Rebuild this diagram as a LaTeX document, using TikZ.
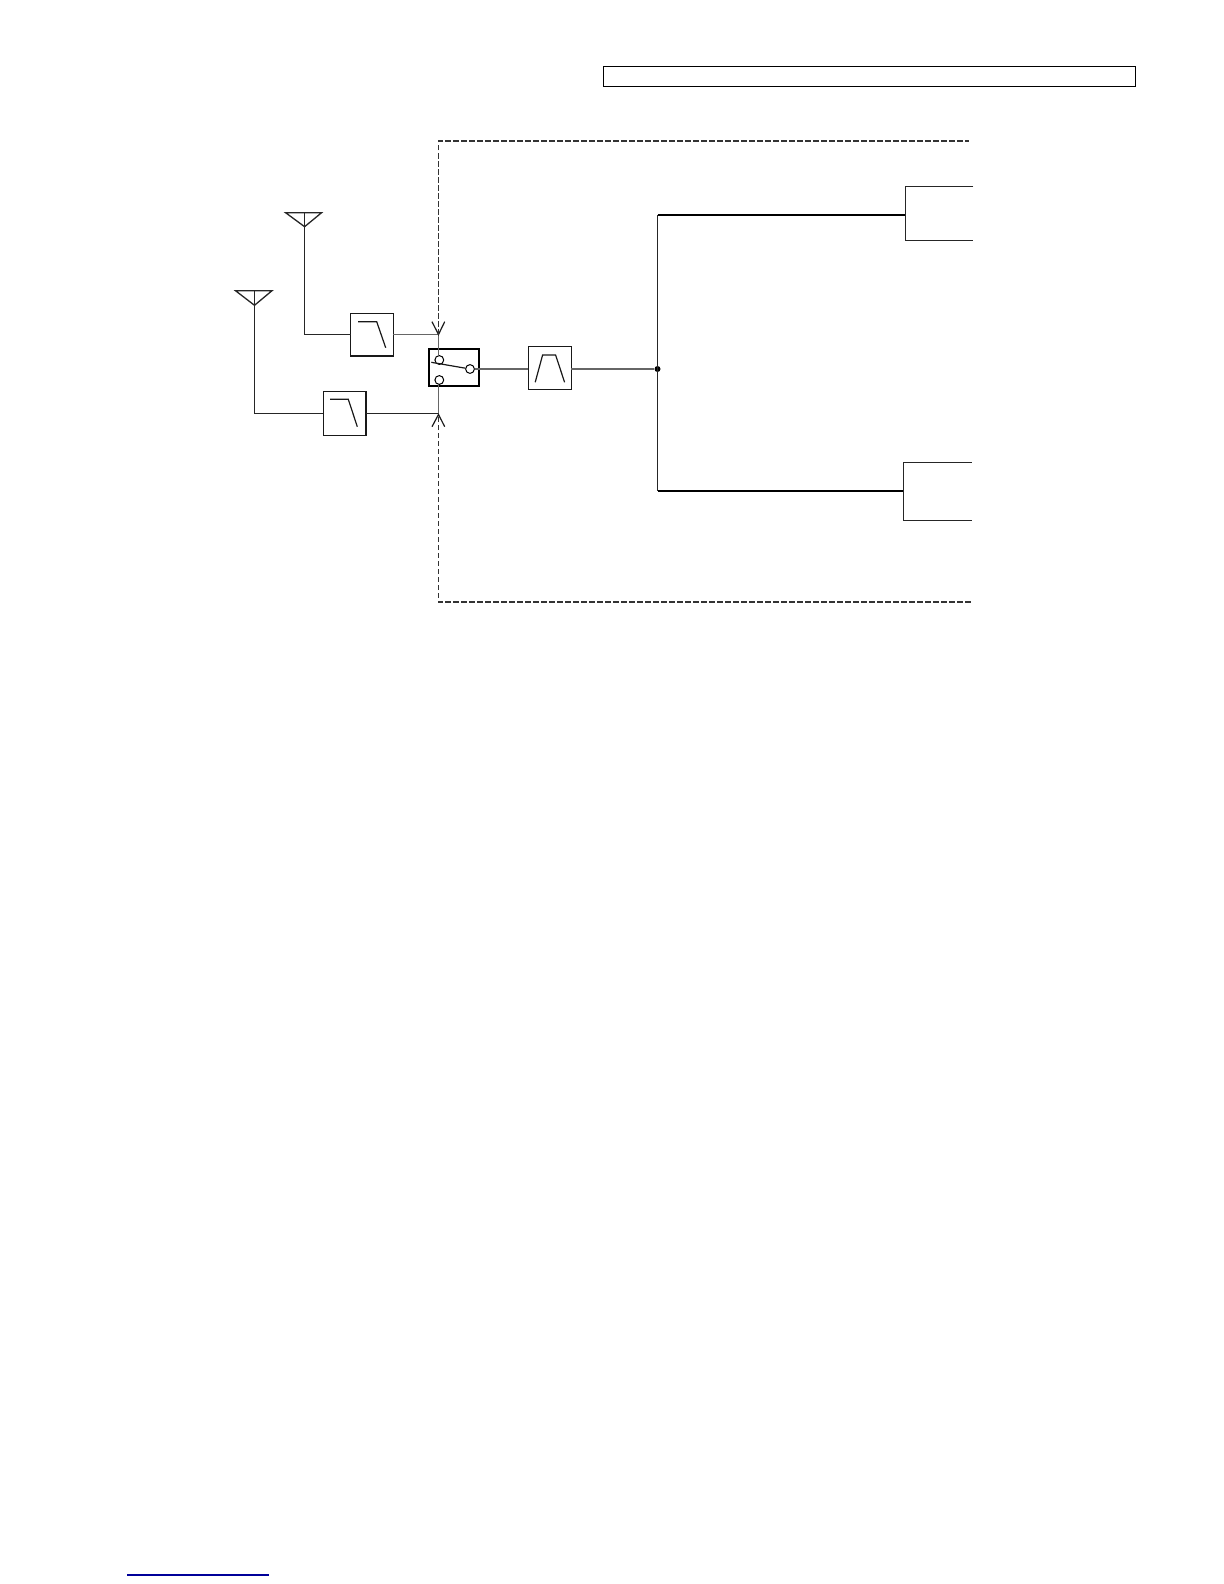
\documentclass[tikz,border=0pt]{standalone}
\usepackage{xcolor}
\usetikzlibrary{arrows.meta, positioning}

\begin{document}
\begin{tikzpicture}[
    x=0.5bp, y=-0.5bp,
    filt/.style={rectangle, draw=black!90, line width=0.6bp, outer sep=0pt, inner sep=0pt,
                 minimum width=21.4bp, minimum height=21.4bp},
    swbox/.style={rectangle, draw=black, line width=1.2bp, outer sep=0pt, inner sep=0pt,
                  minimum width=25bp, minimum height=18.5bp},
    contact/.style={circle, draw=black, fill=white, line width=0.5bp, inner sep=0pt, minimum size=4.4bp},
    wire/.style={line width=0.65bp, black!85},
    feed/.style={line width=0.8bp, black!60},
    bus/.style={line width=1bp, black},
    glyph/.style={line width=0.6bp, black!90},
    bound/.style={line width=0.55bp, black!80, dash pattern=on 2.8bp off 1.2bp},
    tip/.style={line width=0.6bp, black!90}
  ]
  \useasboundingbox (0,0) rectangle (1224,1584);

  % nodes
  \node[swbox] (sw) at (454,367.5) {};
  \node[filt, right=24.65bp of sw, yshift=-0.3bp] (bpf) {};
  \node[filt] (lpf1) at (372,334.5) {};
  \node[filt, minimum height=22bp] (lpf2) at (344.5,413.2) {};
  \node[rectangle, draw=black, line width=0.55bp, outer sep=0pt, minimum width=266bp, minimum height=9.8bp] (title) at (869.5,76.5) {};
  \node[circle, fill=black, inner sep=0pt, minimum size=3bp] (dot) at (657.5,369) {};

  % contacts
  \node[contact] (c1) at (439.3,360) {};
  \node[contact] (c2) at (439.3,380) {};
  \node[contact] (c3) at (470,369) {};

  % antennas and joints
  \coordinate (ant1) at (304.6,226.7);
  \coordinate (ant2) at (254.5,305.3);
  \coordinate (in1) at (438.5,334.5);
  \coordinate (in2) at (438.5,413.2);
  \coordinate (up) at (657.5,215);
  \coordinate (dn) at (657.5,490.7);
  \coordinate (rx1) at (905.3,215);
  \coordinate (rx2) at (903.3,490.7);

  % antenna heads
  \draw[wire] (285.6,212.7) -- (321.6,212.7) -- (ant1) -- cycle;
  \draw[wire] (235.5,290.7) -- (272,290.7) -- (ant2) -- cycle;
  \draw[wire] (304.6,212.7) -- (ant1);
  \draw[wire] (254.5,290.7) -- (ant2);

  % arcs
  \draw[wire] (ant1) |- (lpf1);
  \draw[wire] (ant2) |- (lpf2);
  \draw[feed] (lpf1) -- (in1);
  \draw[wire] (lpf2) -- (in2);
  \draw[feed] (in1) -- (in1 |- c1.north);
  \draw[feed] (in2) -- (in2 |- c2.south);
  \draw[feed] (c3) -- (c3 -| bpf.west);
  \draw[feed] (dot -| bpf.east) -- (dot);
  \draw[wire] (up) -- (dn);
  \draw[bus] (up) -- (rx1);
  \draw[bus] (dn) -- (rx2);

  % switch arm
  \draw[glyph] (431.3,362.3) -- (c3);

  % filter marks
  \draw[glyph, shift={(lpf1.center)}] (-14,-12.8) -- (4.7,-12.8) -- (13.7,13.2);
  \draw[glyph, shift={(lpf2.center)}] (-14.5,-13.9) -- (3.8,-13.9) -- (12.8,13.5);
  \draw[glyph, shift={(bpf.center)}] (-14.5,14.2) -- (-7.1,-13.1) -- (5.9,-13.1) -- (14.9,14.2);

  % fork tips
  \draw[tip] (432,321.7) -- (in1) -- (444.7,321.7);
  \draw[tip] (432,426.7) -- (438.5,414.5) -- (444.7,426.7);

  % dashed boundary
  \draw[bound] (in1) -- (438.5,141) -- (969,141);
  \draw[bound, line width=0.9bp] (970.7,602) -- (438.5,602) -- (in2);

  % cut-off blocks
  \draw[wire] (973.3,186.3) -- (rx1 |- 0,186.3) -- (rx1 |- 0,240.3) -- (973.3,240.3);
  \draw[wire] (971.7,462.3) -- (rx2 |- 0,462.3) -- (rx2 |- 0,520.3) -- (971.7,520.3);

  % footnote rule
  \draw[line width=0.6bp, blue!60!black] (127.3,1575) -- (269,1575);
\end{tikzpicture}
\end{document}
